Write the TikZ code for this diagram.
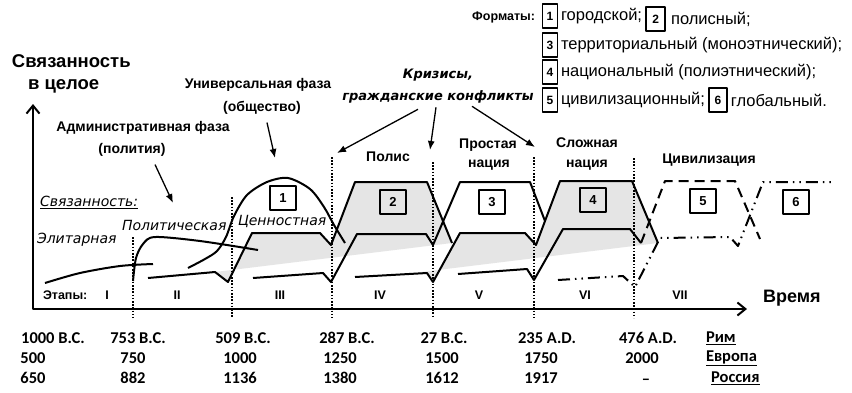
\documentclass[tikz,border=0pt]{standalone}
\usepackage{fontspec}
\setmainfont{Liberation Sans}
\newfontfamily\dejafont{DejaVu Sans}
\newfontfamily\datefont{Carlito}
\usetikzlibrary{arrows.meta,calc}

\begin{document}
\begin{tikzpicture}[x=1pt, y=-1pt, line join=round,
     every node/.style = {inner sep=0pt, outer sep=0pt},
     lbl/.style = {font=\fontsize{14}{16}\selectfont\bfseries},
     biglbl/.style = {font=\fontsize{18.5}{20}\selectfont\bfseries, anchor=west},
     crisis/.style = {font=\dejafont\fontsize{13}{15}\selectfont\bfseries\itshape},
     ital/.style = {font=\dejafont\fontsize{14}{16}\selectfont\itshape, anchor=west},
     stage/.style = {font=\fontsize{12.5}{14}\selectfont\bfseries},
     datelbl/.style = {font=\datefont\fontsize{16.5}{18}\selectfont\bfseries},
     legtext/.style = {font=\fontsize{16.5}{18}\selectfont, anchor=west},
     legbox/.style = {draw, line width=1.5pt, minimum width=15pt,
          minimum height=24pt, font=\fontsize{12}{14}\selectfont\bfseries},
     numbox/.style = {draw, line width=1.8pt, minimum width=26pt,
          minimum height=24pt, font=\fontsize{13}{15}\selectfont\bfseries},
     curve/.style = {line width=2pt},
     longdash/.style = {dash pattern=on 10pt off 6pt},
     dotdash/.style = {dash pattern=on 12pt off 5pt on 1.5pt off 5pt on 1.5pt off 5pt},
     divider/.style = {line width=1.6pt, dash pattern=on 1.6pt off 1.6pt},
     pointer/.style = {line width=1.3pt, -{Latex[length=9pt,width=7pt]}},
     shade/.style = {fill=black!10}]
  \fill[white] (0,0) rectangle (852,392);
  \useasboundingbox (0,0) rectangle (852,392);

  % grey wedges
  \fill[shade] (215,272) -- (452,243) -- (427,182) -- (355,182) -- (331,245)
       -- (320,233) -- (252,233) -- (228,282) -- cycle;
  \fill[shade] (405,274) -- (658,243) -- (632,181) -- (560,181) -- (536,245)
       -- (525,233) -- (460,233) -- (433,282) -- (427,273) -- cycle;

  % stage borders
  \foreach \x/\t in {133/237, 232/197, 332/157, 433/162, 534/157, 634/158}
     \draw[divider] (\x,\t) -- (\x,318);

  % axes
  \coordinate (O) at (33,309);
  \coordinate (ytip) at (33,104);
  \coordinate (xtip) at (747,309);
  \draw[line width=2pt, {Straight Barb[length=8pt,width=13pt]}-{Straight Barb[length=8pt,width=13pt]}]
       (ytip) -- (O) -- (xtip);

  % curves
  \draw[curve] plot[smooth] coordinates {(45,283) (80,273) (120,266) (153,264)};
  \draw[curve] plot[smooth] coordinates {(133,281) (136,258) (143,244)
       (155,237) (200,241) (258,250)};
  \draw[curve] plot[smooth] coordinates {(188,268) (205,259) (217,251)
       (226,237) (234,216) (247,195) (267,182) (288,178) (310,189)
       (324,207) (334,225) (345,243)};
  \draw[curve] (148,278) -- (215,272) -- (228,282) -- (252,233) -- (320,233)
       -- (331,245) -- (355,182) -- (427,182) -- (452,243);
  \draw[curve] (253,278) -- (323,273) -- (331,282) -- (357,234) -- (426,234)
       -- (433,245) -- (460,182) -- (530,182) -- (545,221);
  \draw[curve] (355,277) -- (427,273) -- (433,282) -- (460,233) -- (525,233)
       -- (536,245) -- (560,181) -- (632,181) -- (658,243);
  \draw[curve] (458,274) -- (527,269) -- (534,280) -- (563,229) -- (630,229)
       -- (641,243);
  \draw[curve, longdash] (641,243) -- (665,181) -- (735,181) -- (760,239);
  \draw[curve, dotdash] (558,280) -- (623,276) -- (635,287) -- (660,238)
       -- (730,237) -- (738,246) -- (763,182) -- (832,182);

  % format boxes
  \node[numbox] (b1) at (283,198) {1};
  \node[numbox] (b2) at (393,202) {2};
  \node[numbox] (b3) at (492,202) {3};
  \node[numbox] (b4) at (593,200) {4};
  \node[numbox] (b5) at (703,201) {5};
  \node[numbox] (b6) at (796,202) {6};

  % labels
  \node[biglbl] (coh) at (12,61) {Связанность};
  \node[biglbl] (whole) at (28,86) {в целое};
  \node[lbl] (univ) at (258,85) {Универсальная фаза};
  \node[lbl] (soc) at (262,108) {(общество)};
  \node[lbl] (adm) at (143,128) {Административная фаза};
  \node[lbl] (pty) at (132,150) {(полития)};
  \node[crisis] (cr1) at (438,75) {Кризисы,};
  \node[crisis] (cr2) at (438,97) {гражданские конфликты};
  \node[lbl] (polis) at (388,157) {Полис};
  \node[lbl] (simp) at (488,145) {Простая};
  \node[lbl] (simn) at (489,165) {нация};
  \node[lbl] (comp) at (587,143) {Сложная};
  \node[lbl] (comn) at (587,165) {нация};
  \node[lbl] (civ) at (709,160) {Цивилизация};
  \node[ital] (cohk) at (40,202) {\underline{Связанность:}};
  \node[ital] (pols) at (122,225) {Политическая};
  \node[ital] (elit) at (37,240) {Элитарная};
  \node[ital] (vals) at (238,221) {Ценностная};
  \node[biglbl, font=\fontsize{18}{20}\selectfont\bfseries] (time) at (763,298) {Время};

  % pointers
  \coordinate (p1) at (275,158);
  \coordinate (p2) at (173,203);
  \coordinate (p3) at (337,153);
  \coordinate (p4) at (430,150);
  \coordinate (p5) at (535,147);
  \draw[pointer] ($(soc.south)+(5,8)$) -- (p1);
  \draw[pointer] ($(pty.south)+(23,8)$) -- (p2);
  \draw[pointer] ($(cr2.south)+(-20,6)$) -- (p3);
  \draw[pointer] ($(cr2.south)+(-2,4)$) -- (p4);
  \draw[pointer] ($(cr2.south)+(34,3)$) -- (p5);

  % stages
  \node[stage, anchor=west] (st) at (43,295) {Этапы:};
  \foreach \x/\s in {107/I, 177/II, 280/III, 380/IV, 479/V, 585/VI, 680/VII}
     \node[stage] (st\s) at (\x,295) {\s};

  % legend
  \node[lbl, font=\fontsize{12.5}{14}\selectfont\bfseries, anchor=east]
       (fmt) at (535,17) {Форматы:};
  \node[legbox] (l1) at (550,16) {1};
  \node[legtext] (t1) at (561,16) {городской;};
  \node[legbox, minimum width=19pt, anchor=west] (l2) at ([xshift=4pt,yshift=-3pt]t1.east) {2};
  \node[legtext] (t2) at ([xshift=6pt]l2.east) {полисный;};
  \node[legbox] (l3) at (550,45) {3};
  \node[legtext] (t3) at (561,45) {территориальный (моноэтнический);};
  \node[legbox] (l4) at (550,72) {4};
  \node[legtext] (t4) at (561,72) {национальный (полиэтнический);};
  \node[legbox] (l5) at (550,100) {5};
  \node[legtext] (t5) at (561,100) {цивилизационный;};
  \node[legbox, minimum width=18pt, anchor=west] (l6) at ([xshift=4pt]t5.east) {6};
  \node[legtext] (t6) at ([xshift=4pt]l6.east) {глобальный.};

  % dates
  \foreach \x/\d [count=\i] in {53/1000 B.C., 138/753 B.C., 243/509 B.C.,
       347/287 B.C., 444/27 B.C., 547/235 A.D., 648/476 A.D.}
     \node[datelbl] (r\i) at (\x,338) {\d};
  \foreach \x/\d/\e [count=\i] in {33/500/650, 133/750/882, 240/1000/1136,
       340/1250/1380, 442/1500/1612, 541/1750/1917}
     {\node[datelbl] (e\i) at (\x,358) {\d};
      \node[datelbl] (s\i) at (\x,378) {\e};}
  \node[datelbl] (e7) at (642,358) {2000};
  \node[datelbl, yshift=-4pt] (s7) at (646,378) {\textendash};
  \node[datelbl, anchor=west] (rome) at (706,338) {\underline{Рим}};
  \node[datelbl, anchor=west] (eur) at (706,358) {\underline{Европа}};
  \node[datelbl, anchor=west] (rus) at (711,378) {\underline{Россия}};
\end{tikzpicture}
\end{document}
